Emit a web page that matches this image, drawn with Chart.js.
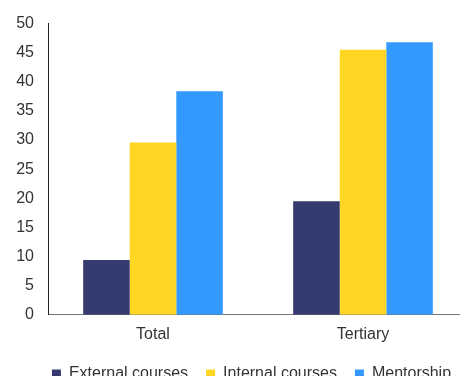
<!DOCTYPE html>
<html>
<head>
    <title>Training types</title>
    <style>
        body {
            margin: 0;
            background-color: #fff;
            overflow: hidden;
        }
        #wrap {
            position: relative;
            width: 468px;
            height: 398px;
        }
    </style>
    <script src="https://cdn.jsdelivr.net/npm/chart.js"></script>
</head>
<body>
    <div id="wrap">
        <canvas id="chart"></canvas>
    </div>
    <script>
        var categories = ['Total', 'Tertiary'];
        var seriesNames = ['External courses', 'Internal courses', 'Mentorship'];
        var externalCourses = [9.4, 19.5];
        var internalCourses = [29.6, 45.5];
        var mentorship = [38.4, 46.8];
        var yTicks = [0, 5, 10, 15, 20, 25, 30, 35, 40, 45, 50];
        var colors = ['#353b6f', '#ffd624', '#3399ff'];

        var values = [externalCourses, internalCourses, mentorship];
        var datasets = seriesNames.map(function(name, i) {
            return {
                label: name,
                data: values[i],
                backgroundColor: colors[i],
                borderWidth: 0,
                barPercentage: 1,
                categoryPercentage: 0.665
            };
        });

        var fontFam = 'Liberation Sans, Arial, sans-serif';

        // nudge the legend right and up a bit, like the original
        var legendShift = {
            id: 'legendShift',
            afterLayout: function(chart) {
                chart.legend.left += 10;
                chart.legend.right += 10;
                chart.legend.top -= 6;
                chart.legend.bottom -= 6;
            }
        };

        new Chart(document.getElementById('chart'), {
            type: 'bar',
            data: { labels: categories, datasets: datasets },
            plugins: [legendShift],
            options: {
                responsive: true,
                maintainAspectRatio: false,
                animation: false,
                layout: { padding: { top: 6, left: 15, right: 0, bottom: 0 } },
                plugins: {
                    tooltip: { enabled: false },
                    legend: {
                        position: 'bottom',
                        labels: {
                            usePointStyle: true,
                            pointStyle: 'rect',
                            boxWidth: 9,
                            boxHeight: 9,
                            padding: 18,
                            color: '#333',
                            font: { family: fontFam, size: 16 }
                        }
                    }
                },
                scales: {
                    x: {
                        grid: { display: false, drawTicks: false },
                        border: { color: '#777', width: 1 },
                        ticks: {
                            color: '#333',
                            padding: 10,
                            font: { family: fontFam, size: 16 }
                        }
                    },
                    y: {
                        min: 0,
                        max: 50,
                        afterBuildTicks: function(axis) {
                            axis.ticks = yTicks.map(function(v) { return { value: v }; });
                        },
                        afterFit: function(axis) {
                            axis.width = 33;
                        },
                        grid: { display: false, drawTicks: false },
                        border: { color: '#222', width: 1 },
                        ticks: {
                            color: '#333',
                            padding: 14,
                            font: { family: fontFam, size: 16 }
                        }
                    }
                }
            }
        });
    </script>
</body>
</html>
